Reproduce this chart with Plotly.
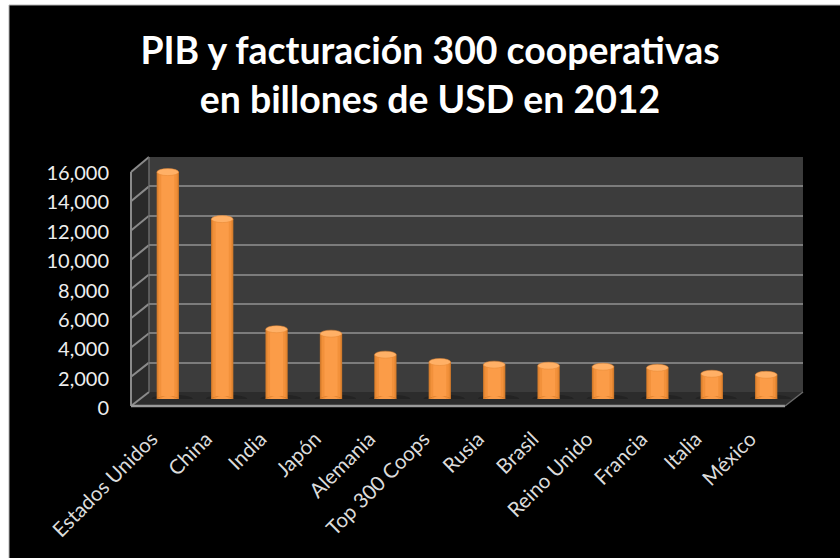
import plotly.graph_objects as go

categories = ["Estados Unidos", "China", "India", "Japón", "Alemania", "Top 300 Coops",
              "Rusia", "Brasil", "Reino Unido", "Francia", "Italia", "México"]
values = [15450, 12250, 4750, 4450, 3020, 2520, 2340, 2270, 2200, 2130, 1720, 1650]
tick_values = [0, 2000, 4000, 6000, 8000, 10000, 12000, 14000, 16000]
title_text = "PIB y facturación 300 cooperativas<br>en billones de USD en 2012"

W, H = 840, 558
FONT = "Lato"


def px(x):
    return x / W


def py(y):
    return 1 - y / H


def poly(points, fill, line=None, width=0):
    path = "M " + " L ".join(f"{px(x):.5f},{py(y):.5f}" for x, y in points) + " Z"
    return dict(type="path", xref="paper", yref="paper", path=path, fillcolor=fill,
                line=dict(color=line or fill, width=width), layer="below")


def seg(x0, y0, x1, y1, color="#8a8a8a", width=2):
    return dict(type="line", xref="paper", yref="paper", x0=px(x0), y0=py(y0), x1=px(x1), y1=py(y1),
                line=dict(color=color, width=width), layer="below")


# Pixel frame of the pseudo-3D box
back_l, back_r, back_top, back_bot = 149, 803, 157, 392
front_l, front_r, front_top, front_bot = 131, 785, 172, 406

shapes = [
    poly([(9, 5), (W + 5, 5), (W + 5, H + 5), (9, H + 5)], "#000000", "#b8b8b8", 1),
    poly([(back_l, back_top), (back_r, back_top), (back_r, back_bot), (back_l, back_bot)], "#3c3c3c"),
    poly([(front_l, front_top), (back_l, back_top), (back_l, back_bot), (front_l, front_bot)], "#2a2a2a"),
    poly([(front_l, front_bot), (back_l, back_bot), (back_r, back_bot), (front_r, front_bot)], "#2c2c2c"),
]
for t in tick_values:
    f = t / tick_values[-1]
    yb = back_bot + (back_top - back_bot) * f
    yf = front_bot + (front_top - front_bot) * f
    shapes.append(seg(front_l, yf, back_l, yb))
shapes += [
    seg(front_l, front_top, front_l, front_bot),
    seg(back_l, back_top, back_l, back_bot, "#6a6a6a", 1.5),
    seg(front_l, front_bot, front_r, front_bot, "#9a9a9a", 2.5),
    seg(front_r, front_bot, back_r, back_bot, "#6a6a6a", 1.5),
]

# Cylinders are stacks of overlaid bars, from the darker rim to the lighter core
strips = [(0.41, "#c9752a"), (0.38, "#e58732"), (0.33, "#f2913b"), (0.24, "#fb9c48")]
DATA_PER_PX = tick_values[-1] / 235.0
rim = 3 * DATA_PER_PX
cap = 3.5 * DATA_PER_PX

fig = go.Figure()
# invisible traces bring the grid axis and the label axis into the figure
fig.add_trace(go.Scatter(x=[0], y=[0], xaxis="x", yaxis="y", mode="none", showlegend=False, hoverinfo="skip"))
fig.add_trace(go.Scatter(x=[categories[0]], y=[0], xaxis="x2", yaxis="y3", mode="none", showlegend=False, hoverinfo="skip"))

for i, v in enumerate(values):
    shapes.append(dict(type="circle", xref="x2", yref="y2", x0=i - 0.3, x1=i + 0.46,
                       y0=-1.4 * rim, y1=1.4 * rim, fillcolor="#1a1a1a", opacity=0.5,
                       line=dict(width=0), layer="below"))

for w, color in strips:
    fig.add_trace(go.Bar(x=categories, y=values, width=w, xaxis="x2", yaxis="y2",
                         marker=dict(color=color, line=dict(width=0)), showlegend=False))
    for i, v in enumerate(values):
        shapes.append(dict(type="circle", xref="x2", yref="y2", x0=i - w / 2, x1=i + w / 2,
                           y0=-rim, y1=rim, fillcolor=color, line=dict(width=0)))
for i, v in enumerate(values):
    shapes.append(dict(type="circle", xref="x2", yref="y2", x0=i - 0.2, x1=i + 0.2,
                       y0=v - cap, y1=v + cap, fillcolor="#ffb066", line=dict(color="#e58732", width=0.5)))

fig.update_layout(
    width=W, height=H, autosize=False,
    margin=dict(l=0, r=0, t=0, b=0, autoexpand=False),
    paper_bgcolor="#ffffff", plot_bgcolor="rgba(0,0,0,0)",
    barmode="overlay", showlegend=False, shapes=shapes,
    font=dict(family=FONT, color="#e6e6e6"),
    title=dict(text=title_text, x=430 / W, xanchor="center", xref="paper",
               y=py(64), yanchor="top", yref="paper", automargin=False,
               font=dict(family=FONT, size=37.4, color="#ffffff", weight="bold")),
    # back-wall grid
    xaxis=dict(domain=[px(back_l), px(back_r)], visible=False, range=[0, 1], automargin=False),
    yaxis=dict(domain=[py(back_bot), py(back_top)], range=[0, tick_values[-1]], tickvals=tick_values,
               showticklabels=False, ticks="", showgrid=True, gridcolor="#7c7c7c", gridwidth=2,
               zeroline=False, showline=False, automargin=False),
    # bars and category labels
    xaxis2=dict(domain=[px(140.6), px(793.4)], type="category", categoryorder="array",
                categoryarray=categories, range=[-0.5, 11.5], anchor="free", position=py(422),
                showline=False, showgrid=False, ticks="", tickangle=-45, automargin=False,
                ticklabelshift=-16,
                tickfont=dict(family=FONT, size=20.5, color="#dcdcdc")),
    yaxis2=dict(domain=[py(399), py(164)], range=[0, tick_values[-1]], anchor="x2", visible=False,
                automargin=False),
    # value labels on the front edge
    yaxis3=dict(domain=[py(408), py(173)], range=[0, tick_values[-1]], tickvals=tick_values,
                tickformat=",d", anchor="free", position=px(109), side="left", automargin=False,
                showgrid=False, zeroline=False, showline=False, ticks="",
                tickfont=dict(family=FONT, size=20, color="#eeeeee")),
)

fig.write_html("out.html", post_script="document.body.style.margin='0';",
               config=dict(displayModeBar=False))
